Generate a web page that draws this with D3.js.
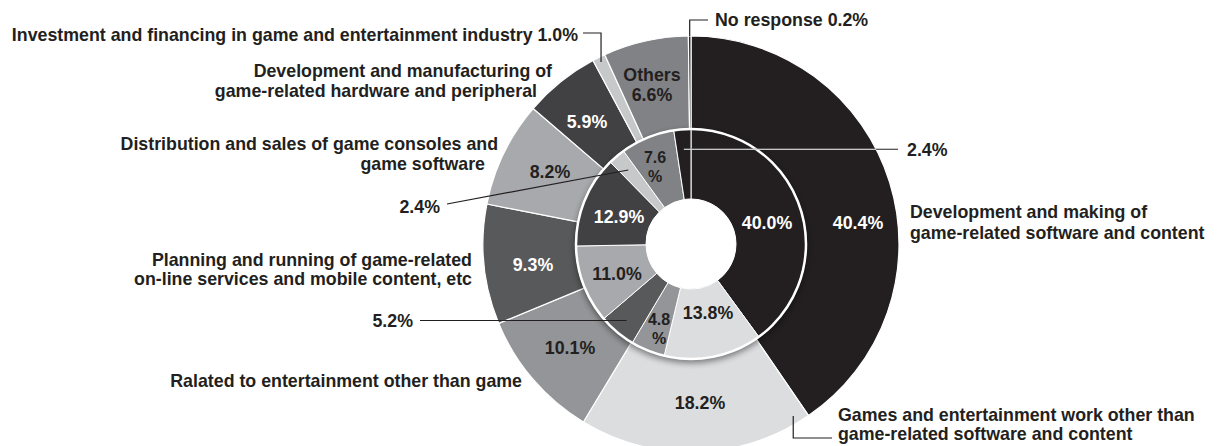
<!DOCTYPE html>
<html>
<head>
<meta charset="utf-8">
<script src="https://cdn.jsdelivr.net/npm/d3@7"></script>
<style>
  html, body { margin: 0; padding: 0; background: #fff; }
  svg { display: block; }
  text { font-family: "Liberation Sans", Arial, Helvetica, sans-serif; font-weight: bold; }
</style>
</head>
<body>
<svg id="chart" width="1219" height="446"></svg>
<script>
// Fields of business, share of respondents (%)
const categories = [
  "Development and making of game-related software and content",
  "Games and entertainment work other than game-related software and content",
  "Ralated to entertainment other than game",
  "Planning and running of game-related on-line services and mobile content, etc",
  "Distribution and sales of game consoles and game software",
  "Development and manufacturing of game-related hardware and peripheral",
  "Investment and financing in game and entertainment industry",
  "Others",
  "No response"
];
// outer ring
const outerValues = [40.4, 18.2, 10.1, 9.3, 8.2, 5.9, 1.0, 6.6, 0.2];
// inner ring
const innerValues = [40.0, 13.8, 4.8, 5.2, 11.0, 12.9, 2.4, 7.6, 2.4];

// one grey per category, shared by both rings
const palette = ["#231f20", "#dcdddf", "#939598", "#58595b", "#a7a9ac", "#414042", "#c7c8ca", "#808285", "#231f20"];

const ink = "#231f20";
const cx = 691, cy = 244;
const rOuter = 208, rMid = 115, rHole = 45;
const fontSize = 17.8;

const svg = d3.select("#chart");
const defs = svg.append("defs");
const blur = defs.append("filter").attr("id", "ringShadow")
  .attr("x", "-20%").attr("y", "-20%").attr("width", "140%").attr("height", "140%");
blur.append("feGaussianBlur").attr("stdDeviation", 3);

const pie = d3.pie().sort(null).value(d => d).startAngle(0).endAngle(2 * Math.PI);
const outerArcs = pie(outerValues);
const innerArcs = pie(innerValues);

const arcOuter = d3.arc().innerRadius(rMid).outerRadius(rOuter);
const arcInner = d3.arc().innerRadius(rHole).outerRadius(rMid);

const g = svg.append("g").attr("transform", `translate(${cx},${cy})`);

// outer ring
g.append("g").selectAll("path").data(outerArcs).join("path")
  .attr("d", arcOuter)
  .attr("fill", (d, i) => palette[i])
  .attr("stroke", "#fff").attr("stroke-width", 1.2).attr("stroke-linejoin", "round");

// soft shadow of the inner ring falling on the outer one
g.append("circle").attr("r", rMid + 1).attr("cy", 3)
  .attr("fill", "#000").attr("opacity", 0.45).attr("filter", "url(#ringShadow)");

// inner ring
g.append("g").selectAll("path").data(innerArcs).join("path")
  .attr("d", arcInner)
  .attr("fill", (d, i) => palette[i])
  .attr("stroke", "#fff").attr("stroke-width", 1).attr("stroke-linejoin", "round");

g.append("circle").attr("r", rHole).attr("fill", "#fff");
g.append("circle").attr("r", rMid).attr("fill", "none")
  .attr("stroke", "#fff").attr("stroke-width", 2.5);

// point on a slice: fraction t across the slice, at radius r (page coords)
function onSlice(arcs, i, t, r) {
  const a = arcs[i].startAngle + t * (arcs[i].endAngle - arcs[i].startAngle);
  return [cx + r * Math.sin(a), cy - r * Math.cos(a)];
}
const pct = v => `${v.toFixed(1)}%`;

// leader lines
const leaders = [
  { from: onSlice(outerArcs, 8, 0.5, rOuter), route: p => [p, [p[0], 20], [708, 20]] },
  { from: onSlice(outerArcs, 6, 0.5, 203), route: p => [p, [p[0], 33], [583, 33]] },
  { from: onSlice(outerArcs, 1, 0.056, 200), route: p => [p, [p[0], 438], [832, 438]] },
  { from: onSlice(innerArcs, 6, 0.5, 97), route: p => [p, [447, 204]] },
  { from: onSlice(innerArcs, 3, 0.5, 100), route: p => [p, [420, p[1]]] },
  { from: onSlice(innerArcs, 8, 0.5, 95), route: p => [p, [898, p[1]]], lightUntil: p => cx + Math.sqrt(rOuter * rOuter - (p[1] - cy) ** 2) }
];
const line = d3.line();
const lg = svg.append("g").attr("fill", "none").attr("stroke-width", 1.2);
leaders.forEach(L => {
  const pts = L.route(L.from);
  lg.append("path").attr("d", line(pts)).attr("stroke", ink);
  if (L.lightUntil) {
    // the part that crosses the dark slices is drawn in white
    lg.append("path").attr("d", line([L.from, [L.lightUntil(L.from), L.from[1]]])).attr("stroke", "#fff");
  }
});

// text helpers: one <text> per label, one <tspan> per line
const tg = svg.append("g").attr("font-size", fontSize);
function label(lines, x, ys, anchor, fill, size) {
  const t = tg.append("text").attr("text-anchor", anchor).attr("fill", fill || ink);
  if (size) t.attr("font-size", size);
  lines.forEach((s, k) => {
    t.append("tspan").attr("x", Array.isArray(x) ? x[k] : x).attr("y", ys[k]).text(s);
  });
}
function words(s, n) {
  const w = s.split(" ");
  return [w.slice(0, n).join(" "), w.slice(n).join(" ")];
}

// category names
label(words(categories[0], 4), 910, [218, 239], "start");
label(words(categories[1], 6), 838, [421, 440], "start");
label([categories[2]], 522, [387], "end");
label(words(categories[3], 5), 472, [266, 285], "end");
label(words(categories[4], 7), [498, 485], [150, 170], "end");
label(words(categories[5], 4), [552, 537], [77, 97], "end");
label([`${categories[6]} ${pct(outerValues[6])}`], 578, [41], "end");
label([categories[7], pct(outerValues[7])], 652, [81, 101], "middle");
label([`${categories[8]} ${pct(outerValues[8])}`], 715, [26], "start");

// outer ring values
label([pct(outerValues[0])], 858, [229], "middle", "#fff");
label([pct(outerValues[1])], 700, [409], "middle");
label([pct(outerValues[2])], 570, [354], "middle");
label([pct(outerValues[3])], 533, [271], "middle", "#fff");
label([pct(outerValues[4])], 550, [178], "middle");
label([pct(outerValues[5])], 587, [128], "middle", "#fff");

// inner ring values
label([pct(innerValues[0])], 767, [229], "middle", "#fff");
label([pct(innerValues[1])], 708, [319], "middle");
label([innerValues[2].toFixed(1), "%"], 659, [325, 343.5], "middle", null, 16);
label([pct(innerValues[3])], 413, [327], "end");
label([pct(innerValues[4])], 617, [280], "middle");
label([pct(innerValues[5])], 619, [223], "middle", "#fff");
label([pct(innerValues[6])], 440, [213], "end");
label([innerValues[7].toFixed(1), "%"], 655, [163, 181.5], "middle", null, 16);
label([pct(innerValues[8])], 907, [156], "start");
</script>
</body>
</html>
